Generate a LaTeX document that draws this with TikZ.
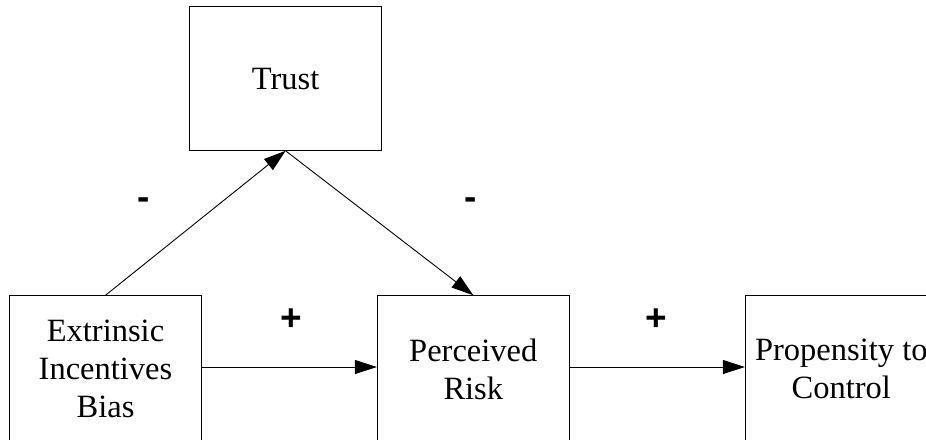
\documentclass[tikz,border=0pt]{standalone}
\usepackage{fontspec}
\setmainfont{Liberation Serif}
\newfontfamily\signfont{Liberation Sans}
\usetikzlibrary{arrows.meta}
\begin{document}
\begin{tikzpicture}[x=1pt,y=-1pt,
  box/.style={draw,line width=0.9pt,minimum width=192pt,minimum height=143.5pt,
    inner sep=0pt,align=center,font=\fontsize{32.5}{38}\selectfont},
  lowbox/.style={box,minimum height=147pt},
  link/.style={line width=0.9pt,-{Triangle[length=22pt,width=14pt]}},
  sign/.style={font=\signfont\bfseries\fontsize{37}{37}\selectfont,inner sep=0pt}]
  \useasboundingbox (0,0) rectangle (926,439);
  \node[box] (trust) at (285.6,78.6) {Trust};
  % bottom row boxes run past the lower edge
  \node[lowbox] (eib) at (105.5,369.2) {Extrinsic\\Incentives\\Bias};
  \node[lowbox] (risk) at (473.3,369.2) {Perceived\\Risk};
  \node[lowbox] (ptc) at (841.3,369.2) {Propensity to\\Control};
  \draw[link] (eib.north) -- (trust.south);
  \draw[link] (trust.south) -- (risk.north);
  \draw[link] ([yshift=2.2pt]eib.east) -- ([yshift=2.2pt]risk.west);
  \draw[link] ([yshift=2.2pt]risk.east) -- ([yshift=2.2pt]ptc.west);
  \node[sign] (m1) at (143.5,204) {-};
  \node[sign] (m2) at (470.7,204) {-};
  \node[sign] (p1) at (291,320) {+};
  \node[sign] (p2) at (656.5,320) {+};
\end{tikzpicture}
\end{document}
